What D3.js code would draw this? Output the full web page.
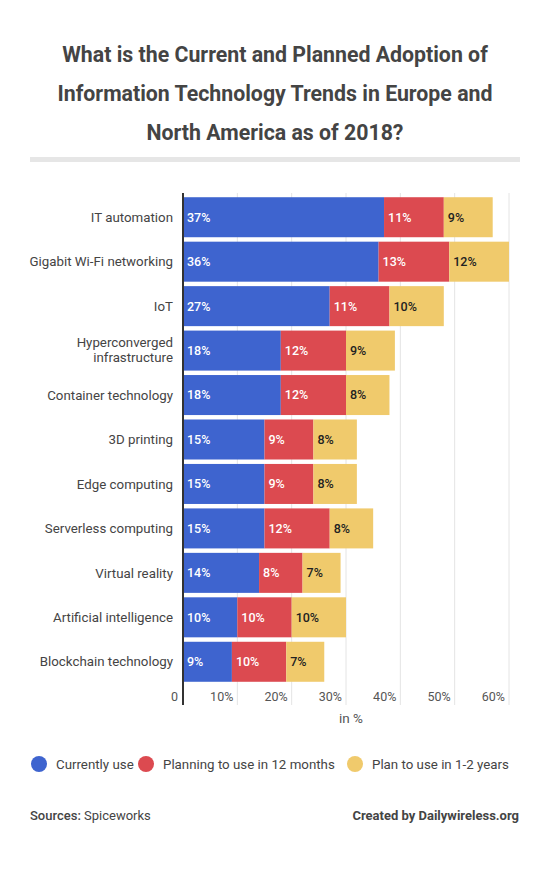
<!DOCTYPE html>
<html>
<head>
<meta charset="utf-8">
<script src="https://cdn.jsdelivr.net/npm/d3@7"></script>
<style>
  body { margin: 0; background: #fff; font-family: Roboto, sans-serif; }
  svg text { font-family: Roboto, sans-serif; }
</style>
</head>
<body>
<div id="chart"></div>
<script>
// data
var categories = ["IT automation", "Gigabit Wi-Fi networking", "IoT", "Hyperconverged infrastructure",
  "Container technology", "3D printing", "Edge computing", "Serverless computing",
  "Virtual reality", "Artificial intelligence", "Blockchain technology"];
var currentlyUse = [37, 36, 27, 18, 18, 15, 15, 15, 14, 10, 9];
var planning12 = [11, 13, 11, 12, 12, 9, 9, 12, 8, 10, 10];
var plan1to2 = [9, 12, 10, 9, 8, 8, 8, 8, 7, 10, 7];
var seriesNames = ["Currently use", "Planning to use in 12 months", "Plan to use in 1-2 years"];
var colors = ["#3e64cf", "#dc4a50", "#f0ca6c"];
var xTicks = [0, 10, 20, 30, 40, 50, 60];

var width = 550, height = 886;
var margin = {top: 193, left: 183};

var svg = d3.select("#chart").append("svg")
    .attr("width", width)
    .attr("height", height);

// title
var titleLines = ["What is the Current and Planned Adoption of",
  "Information Technology Trends in Europe and", "North America as of 2018?"];
svg.append("g").selectAll("text")
  .data(titleLines)
  .enter().append("text")
    .attr("x", width / 2)
    .attr("y", function(d, i) { return 62 + i * 39; })
    .attr("text-anchor", "middle")
    .style("font-size", "21.3px")
    .style("font-weight", "bold")
    .style("fill", "#444")
    .text(function(d) { return d; });

svg.append("rect")
  .attr("x", 30).attr("y", 157)
  .attr("width", 490).attr("height", 5)
  .attr("fill", "#e6e6e6");

var g = svg.append("g")
  .attr("transform", "translate(" + margin.left + "," + margin.top + ")");

var x = d3.scaleLinear().domain([0, 60]).range([0, 326]).clamp(true);
var y = d3.scaleBand().domain(categories).range([2, 491]).paddingInner(0.1).paddingOuter(0.05);

// gridlines
g.append("g").selectAll("line")
  .data(xTicks.slice(1))
  .enter().append("line")
    .attr("x1", function(d) { return x(d); })
    .attr("x2", function(d) { return x(d); })
    .attr("y1", 0).attr("y2", 512)
    .attr("stroke", "#e4e4e4");

// stacked data
var rows = categories.map(function(c, i) {
  return {cat: c, a: currentlyUse[i], b: planning12[i], c: plan1to2[i]};
});
var stack = d3.stack().keys(["a", "b", "c"]);
var stacked = stack(rows);

var layers = g.selectAll("g.layer")
  .data(stacked)
  .enter().append("g")
    .attr("class", "layer")
    .attr("fill", function(d, i) { return colors[i]; });

layers.selectAll("rect")
  .data(function(d) { return d; })
  .enter().append("rect")
    .attr("x", function(d) { return x(d[0]); })
    .attr("y", function(d) { return y(d.data.cat); })
    .attr("width", function(d) { return x(d[1]) - x(d[0]); })
    .attr("height", y.bandwidth());

layers.each(function(layer, i) {
  d3.select(this).selectAll("text")
    .data(layer)
    .enter().append("text")
      .attr("x", function(d) { return x(d[0]) + 4; })
      .attr("y", function(d) { return y(d.data.cat) + y.bandwidth() / 2; })
      .attr("dy", "0.35em")
      .style("font-size", "12.5px")
      .style("font-weight", "500")
      .style("fill", i === 2 ? "#222" : "#fff")
      .text(function(d) { return (d[1] - d[0]) + "%"; });
});

// y axis line
g.append("line")
  .attr("x1", 0).attr("x2", 0)
  .attr("y1", 0).attr("y2", 512)
  .attr("stroke", "#333").attr("stroke-width", 2);

// category labels
g.append("g").selectAll("text")
  .data(categories)
  .enter().append("text")
    .attr("x", -10)
    .attr("y", function(d) { return y(d) + y.bandwidth() / 2; })
    .attr("text-anchor", "end")
    .style("font-size", "13.3px")
    .style("fill", "#444")
    .each(function(d) {
      var t = d3.select(this);
      if (d === "Hyperconverged infrastructure") {
        t.append("tspan").attr("x", -10).attr("dy", "-0.25em").text("Hyperconverged");
        t.append("tspan").attr("x", -10).attr("dy", "1.1em").text("infrastructure");
      } else {
        t.attr("dy", "0.35em").text(d);
      }
    });

// x tick labels
g.append("g").selectAll("text")
  .data(xTicks)
  .enter().append("text")
    .attr("x", function(d) { return d === 0 ? x(d) - 5 : x(d) - 4; })
    .attr("y", 508)
    .attr("text-anchor", "end")
    .style("font-size", "12.5px")
    .style("fill", "#555")
    .text(function(d) { return d === 0 ? "0" : d + "%"; });

svg.append("text")
  .attr("x", 351).attr("y", 723)
  .attr("text-anchor", "middle")
  .style("font-size", "13.5px")
  .style("fill", "#555")
  .text("in %");

// legend
var legendX = [39, 146, 355];
var legend = svg.append("g").selectAll("g")
  .data(seriesNames)
  .enter().append("g")
    .attr("transform", function(d, i) { return "translate(" + legendX[i] + ",764)"; });
legend.append("circle").attr("r", 8).attr("fill", function(d, i) { return colors[i]; });
legend.append("text")
  .attr("x", 17).attr("dy", "0.35em")
  .style("font-size", "13.3px")
  .style("fill", "#444")
  .text(function(d) { return d; });

// footer
var src = svg.append("text").attr("x", 30).attr("y", 820)
  .style("font-size", "13px").style("fill", "#444");
src.append("tspan").style("font-weight", "500").text("Sources: ");
src.append("tspan").text("Spiceworks");

svg.append("text")
  .attr("x", 519).attr("y", 820)
  .attr("text-anchor", "end")
  .style("font-size", "13px")
  .style("font-weight", "bold")
  .style("fill", "#444")
  .text("Created by Dailywireless.org");
</script>
</body>
</html>
